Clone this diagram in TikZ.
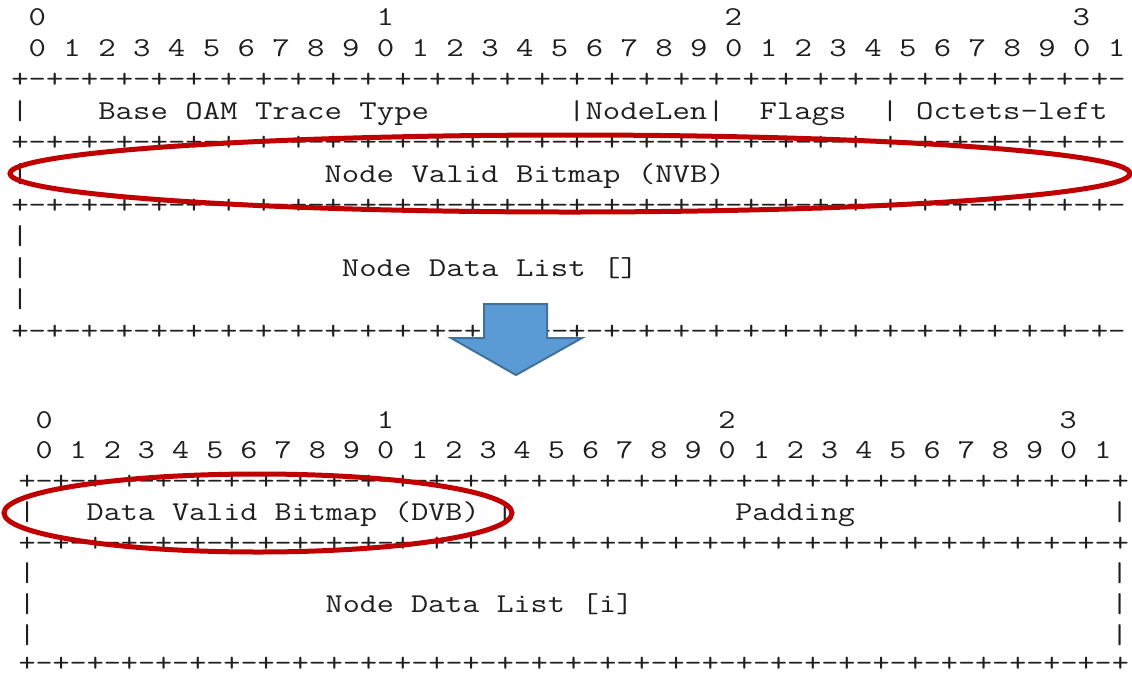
\documentclass[tikz,border=0pt]{standalone}
\usepackage{fontspec}
\usepackage{tikz}
\usetikzlibrary{positioning}
\usetikzlibrary{calc}

\definecolor{ovalred}{RGB}{192,0,0}
\definecolor{arrowfill}{RGB}{91,155,213}
\definecolor{arrowline}{RGB}{65,113,156}

% wide typewriter text, one column = one bit position
\newcommand\wtop[1]{\scalebox{1.243}[1]{#1}}
\newcommand\wbot[1]{\scalebox{1.2195}[1]{#1}}
% 32 x "+-", the closing "+" is added where the row is closed
\newcommand\seprun{+-+-+-+-+-+-+-+-+-+-+-+-+-+-+-+-+-+-+-+-+-+-+-+-+-+-+-+-+-+-+-+-}

\tikzset{
  pkt/.style={inner sep=0pt, outer sep=0pt, anchor=base west, text=black!88,
    font=\fontsize{13.6}{14}\ttfamily},
  oval/.style={draw=ovalred, line width=2.5pt},
}

\begin{document}
\begin{tikzpicture}[x=0.5pt,y=0.5pt,yscale=-1,xscale=1]

\useasboundingbox (0,0) rectangle (1132,676);
\clip (0,0) rectangle (1132,676);

% Trace header, before
\node (hdA0) at (28.7,25)   [pkt] {\wtop{0}};
\node (hdA1) at (376.7,25)  [pkt] {\wtop{1}};
\node (hdA2) at (724.7,25)  [pkt] {\wtop{2}};
\node (hdA3) at (1072.7,25) [pkt] {\wtop{3}};
\node (bitsA) at (28.7,56.4) [pkt] {\wtop{0 1 2 3 4 5 6 7 8 9 0 1 2 3 4 5 6 7 8 9 0 1 2 3 4 5 6 7 8 9 0 1}};

\node (sepA1) at (11.3,87.8)  [pkt] {\wtop{\seprun}};
\node (sepA2) at (11.3,150.6) [pkt] {\wtop{\seprun}};
\node (sepA3) at (11.3,213.4) [pkt] {\wtop{\seprun}};
\node (sepA4) at (11.3,339)   [pkt] {\wtop{\seprun}};

% first word
\node (barA1)   at (11.3,119.2)  [pkt] {\wtop{|}};
\node (oamtype) at (98.3,119.2)  [pkt] {\wtop{Base OAM Trace Type}};
\node (nodelen) at (568.1,119.2) [pkt] {\wtop{|NodeLen|}};
\node (flags)   at (759.5,119.2) [pkt] {\wtop{Flags}};
\node (barA2)   at (881.3,119.2) [pkt] {\wtop{|}};
\node (octleft) at (916.1,119.2) [pkt] {\wtop{Octets-left}};

% NVB
\node (barA3) at (11.3,182)  [pkt] {\wtop{|}};
\node (nvb)   at (324.5,182) [pkt] {\wtop{Node Valid Bitmap (NVB)}};

% node data
\foreach \y [count=\i] in {244.8,276.2,307.6}
  \node (ndlA\i) at (11.3,\y) [pkt] {\wtop{|}};
\node (ndlA) at (341.9,276.2) [pkt] {\wtop{Node Data List []}};

% Trace header, after
\node (hdB0) at (35.5,428)   [pkt] {\wbot{0}};
\node (hdB1) at (376.9,428)  [pkt] {\wbot{1}};
\node (hdB2) at (718.3,428)  [pkt] {\wbot{2}};
\node (hdB3) at (1059.7,428) [pkt] {\wbot{3}};
\node (bitsB) at (35.5,458.75) [pkt] {\wbot{0 1 2 3 4 5 6 7 8 9 0 1 2 3 4 5 6 7 8 9 0 1 2 3 4 5 6 7 8 9 0 1}};

\node (sepB1) at (18.5,489.5) [pkt] {\wbot{\seprun+}};
\node (sepB2) at (18.5,551)   [pkt] {\wbot{\seprun+}};
\node (sepB3) at (18.5,671.5) [pkt] {\wbot{\seprun+}};

% DVB + padding
\node (barB1)   at (18.5,520.25)   [pkt] {\wbot{|}};
\node (dvb)     at (86.7,520.25)   [pkt] {\wbot{Data Valid Bitmap (DVB)}};
\node (barB2)   at (496.4,520.25)  [pkt] {\wbot{|}};
\node (padding) at (735.4,520.25)  [pkt] {\wbot{Padding}};
\node (barB3)   at (1111.0,520.25) [pkt] {\wbot{|}};

% node data
\foreach \y [count=\i] in {581.75,612.5,643.25} {
  \node (ndlBl\i) at (18.5,\y)   [pkt] {\wbot{|}};
  \node (ndlBr\i) at (1111.0,\y) [pkt] {\wbot{|}};
}
\node (ndlB) at (325.7,612.5) [pkt] {\wbot{Node Data List [i]}};

% Down arrow
\draw [draw=arrowline, fill=arrowfill, line width=1pt, line join=miter]
  (484,304) -- (547,304) -- (547,338) -- (582,338) -- (516,375)
  -- (451,338) -- (484,338) -- cycle ;

% Ovals
\draw [oval] (570,173.5) ellipse [x radius=560, y radius=38.5] ;
\draw [oval] (258,513) ellipse [x radius=254, y radius=39] ;

\end{tikzpicture}
\end{document}
